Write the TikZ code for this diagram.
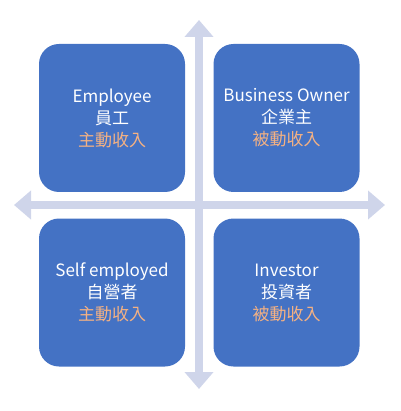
\documentclass[tikz,border=0pt]{standalone}
\usepackage{fontspec}
\setmainfont{Noto Sans CJK TC}
\usetikzlibrary{arrows.meta}
\definecolor{boxblue}{HTML}{4472C4}
\definecolor{axisgray}{HTML}{CFD5EA}
\definecolor{income}{HTML}{F4B183}
\begin{document}
\begin{tikzpicture}[x=1pt, y=-1pt,
	quadrant/.style={fill=boxblue, rounded corners=20pt, minimum width=146pt, minimum height=148pt, text=white, align=center, font=\fontsize{17}{22}\selectfont},
	axis/.style={draw=axisgray, fill=axisgray, line width=8pt, {Triangle[width=28pt,length=17pt]}-{Triangle[width=28pt,length=17pt]}}]
	\useasboundingbox (0, 0) rectangle (400, 411);
	\coordinate (top) at (199, 20);
	\coordinate (bottom) at (199, 389);
	\coordinate (left) at (14, 205);
	\coordinate (right) at (385, 205);
	\draw [axis] (top) -- (bottom);
	\draw [axis] (left) -- (right);
	\node [quadrant] (employee) at (112, 118) {Employee\\員工\\\textcolor{income}{主動收入}};
	\node [quadrant] (owner) at (286.5, 118) {Business Owner\\企業主\\\textcolor{income}{被動收入}};
	\node [quadrant] (self) at (112, 292.5) {Self employed\\自營者\\\textcolor{income}{主動收入}};
	\node [quadrant] (investor) at (286.5, 292.5) {Investor\\投資者\\\textcolor{income}{被動收入}};
\end{tikzpicture}
\end{document}
